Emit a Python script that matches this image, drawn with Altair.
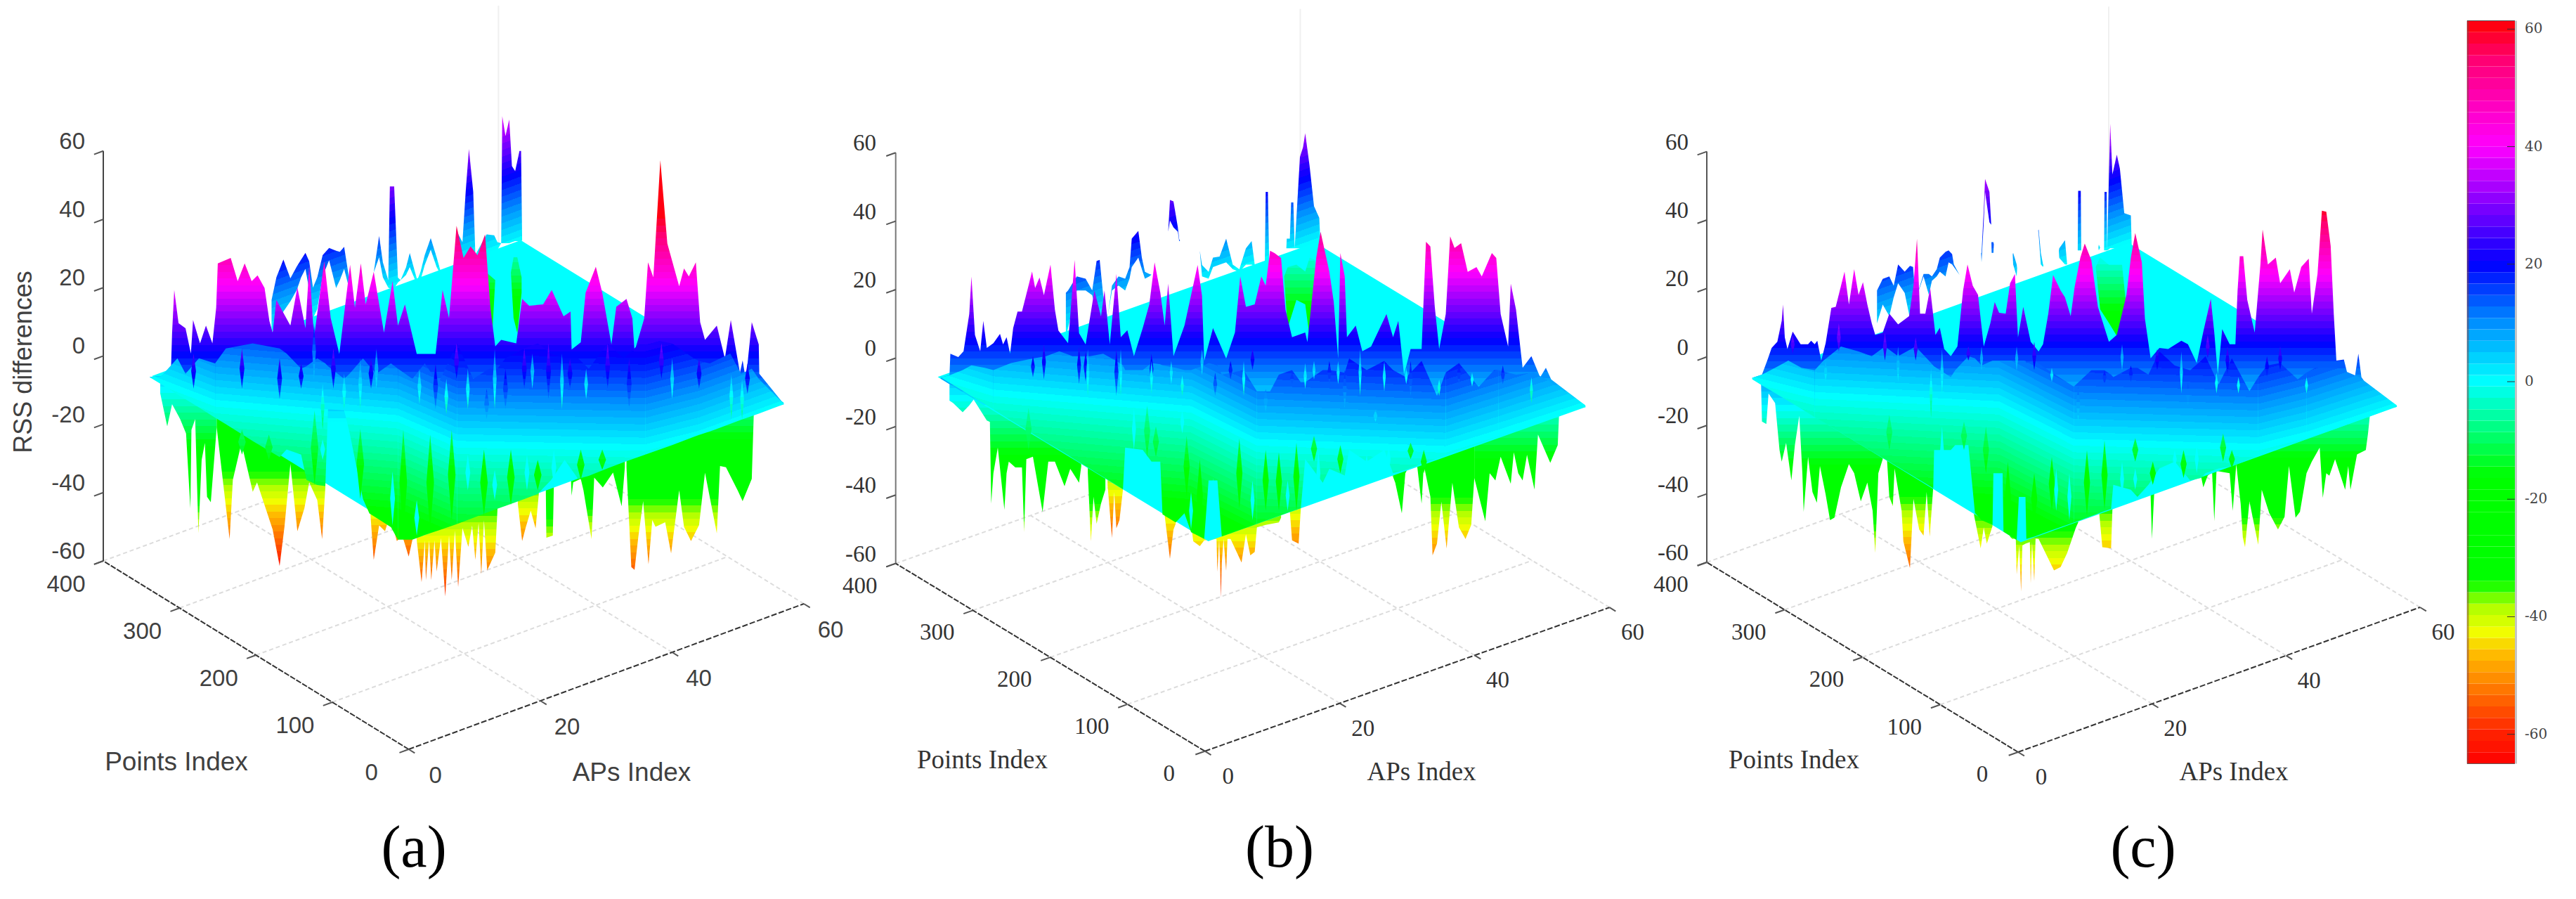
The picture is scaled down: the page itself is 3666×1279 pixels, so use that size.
import numpy as np
import pandas as pd
import altair as alt

# --- colour map (RSS value, colour)
CMAP_RSS = [-65, -60, -53, -46, -42.5, -38, -34, -16, 0, 10, 20, 30, 40, 47, 55, 61.4]
CMAP_RGB = [(255,0,0),(255,32,0),(255,112,0),(255,192,0),(240,255,0),(170,255,0),(0,255,0),(0,255,0),
            (0,255,255),(0,144,255),(0,0,255),(128,0,255),(255,0,255),(255,0,192),(255,0,112),(255,0,0)]
BAND = 1.945

Z_TICKS = [60, 40, 20, 0, -20, -40, -60]
PT_TICKS = [400, 300, 200, 100, 0]
AP_TICKS = [0, 20, 40, 60]
BAR_TICKS = [60, 40, 20, 0, -20, -40, -60]

# --- panel (a): readings are (view position, RSS as read on the z axis)
A_MID = [(27.8,-6.2),(30,-5.9),(31.8,-3.7),(32,6.7),(32.4,19.3),(33.2,9.6),(34.5,8.1),(35.5,.7),(35.9,10.5),(37.2,3.7),(38.3,8.9),(39.5,3.7),(40.2,14.1),(40.5,27.1),(42.9,28.7),(44.2,21.9),(45.5,27.1),(46.8,21.9),(47.9,23.6),(49.2,19.9),(50.1,10.2),(50.7,6.8),(51.4,16.4),(54,8.9),(55.3,20.1),(56.8,8.1),(57.5,26.4),(58.4,5.5),(60.3,27.7),(61.5,11.1),(63.1,.6),(65.1,26.7),(66,14.1),(67.1,27.1),(68,15.1),(69.5,24.6),(71.4,6.8),(73,21.9),(74,8.9),(75.3,15.1),(77.5,.6),(81,.6),(82.3,19.3),(83.5,11.1),(84.9,38.1),(86.2,28.7),(87.5,32.1),(88.8,29.5),(90.2,35.6),(91.2,14),(92.1,2.8),(93.2,4.7),(96,3.7),(97.1,16.7),(98.4,14.7),(101,15.1),(102.6,19.3),(104.8,11.6),(106.1,13),(106.3,1.9),(108,4),(108.9,18.5),(110.8,26.1),(112,18.5),(113.7,3.4),(114.6,14.4),(116.5,16.7),(117.6,11),(118,1.3),(119.8,11),(120.5,27.4),(121.5,23),(122.8,57.3),(124.1,32.9),(126.3,20.4),(127.2,25.6),(128.1,23.3),(129.4,27.4),(130.2,9.9),(131.1,4.7),(133.3,8.9),(134.8,-.7),(135.9,10.5),(137.6,-4.9),(138.1,-1.3),(138.7,-7),(139.8,9.9),(141.1,3.4),(141.2,-5.2),(145.8,-14.1)]
A_BACK = [(50.5,16.4,6.8),(51.4,23,9.6),(52.7,28.2,13),(54,22.7,16),(55.2,26.2,19.3),(56,28.2,23),(56.8,30.2,25.5),(57.5,27.7,19.3),(58.2,20,11),(59,23,13.7),(60,29.5,23.3),(61.2,31.6,28),(62.5,30.8,19.9),(63.2,30.5,22.2),(64,31.9,25.5),(65,21.9,19.3),(65.5,17,17),(69.5,24.4,24.4),(70.5,35.1,28.9),(71.2,27.4,23),(72.2,22.2,20),(72.5,49.6,19.8),(73.3,49.6,19.8),(74,22.9,21.5),(74.5,22.2,22.2),(75.5,25.9,23.7),(76.2,30.1,26),(77.2,24.4,22.2),(77.6,22.2,22.2),(78.2,24.6,22.2),(79,29.6,26.7),(80.1,34.5,31.1),(81.2,28.9,26),(82,24.4,23.7),(82.1,24,24),(84.5,24.4,24.4),(85,36.3,24.4),(86,33.3,28.9),(86.6,48.1,28),(87.2,60.6,28),(88,48.1,28),(88.4,29.6,28),(90.5,35.6,29.6),(91.9,35.3,30.4),(92.5,33.3,31.1),(93.2,33,33),(93.4,70.2,33),(94,64.4,33),(94.7,69.2,33),(95.2,55.6,33.3),(95.8,54.1,33.6),(96.6,60,33.6),(96.9,60,33.7),(97.1,33.7,33.7)]
A_STREAK = [(89.9,21.9,14),(90.5,24.4,8.1),(91.5,23,5.2),(92.1,22.2,22.2),(95,24.4,24.4),(95.5,28.9,11.1),(96.2,28.9,6.7),(97,23,18.5)]
A_CURTAIN = [(27.8,-6.2,-6.2),(30,-5.9,-8.3),(33,-.7,-11.3),(34.5,-5.2,-12.7),(37,-.7,-15.1),(40,-2.2,-18.1),(42,2.2,-20),(47,3.7,-24.9),(52,2.2,-29.6),(53.3,.7,-27.4),(56,-3.7,-28.9),(57,-3,-36.3),(59,-.7,-37.8),(60.5,-2.2,-38.1),(61,-3,-15.6),(64,-6.7,-15.9),(65,-5.2,-22.4),(67.5,-.7,-41.9),(68.7,-3,-46.1),(70,-5.2,-47.4),(72.7,-2.2,-50.1),(74,-3.7,-53.8),(76.7,-6.7,-53.8),(79,-2.2,-52.4),(81.5,-8.1,-51.1),(85,3.7,-49.2),(88,-6.7,-47.4),(91,-3.7,-45.6),(92.5,-3.7,-44.7),(94,-.7,-43.9),(97.5,2.2,-41.9),(100,3.7,-40.4),(102.5,.7,-36.3),(105,-.7,-30.4),(107.5,-.7,-36),(109.5,-3.7,-35.1),(113,3.7,-32.9),(116,-.7,-31.1),(120,5.2,-28.9),(125,3.7,-26.1),(129,-.7,-23.7),(130,-1.5,-23.1),(132,-2.2,-22.1),(135.8,.7,-19.9),(137.8,-5.2,-18.7),(139.8,-3.7,-17.6),(141.1,-6.7,-16.9),(145.8,-14.1,-14.1)]
A_BAND_U = [27.8, 40, 74, 85, 120, 130, 145.8]
A_BAND_V = [-6.6, -14, -18.5, -26, -27, -23, -14]
A_DARK = [(36,.7,-9.6),(45,2.2,-9.6),(52,-.7,-12.6),(56,-2.2,-9.6),(62,2.2,-9.6),(69,-.7,-9.6),(81,-2.2,-15.6),(84.9,3.7,-6.7),(90.5,-9.6,-18.5),(94,-3.7,-15.6),(97.5,2.2,-9.6),(102,3.7,-12.6),(106,-.7,-9.6),(113,3.7,-9.6),(117,-.7,-15.6),(123,3.7,-6.7),(130,-.7,-9.6),(139,-2.2,-11.1)]
A_LIGHT = [(58.4,9.6,-6.8),(60,-8.1,-21.5),(64,-5.2,-15.6),(67,-.7,-15.6),(70,2.2,-9.6),(78,-3.7,-14.1),(83,-6.7,-17),(87,-3.7,-15.6),(92,2.2,-15.6),(99,.7,-9.6),(104.5,.7,-15.6),(109,-3.7,-12.6),(125,-.7,-12.6),(136,-5.2,-18.5),(138,-6.7,-18.5)]
A_GREEN = [(45,-21.5,-28.9),(50,-23,-30.4),(58.5,-15.9,-37.8),(67,-21.3,-41.9),(75,-21.5,-52.6),(80,-23,-51.1),(84,-21.5,-48.1),(90,-27.4,-46.7),(95,-27.4,-43.7),(100,-30.4,-39.3),(108,-27.4,-36.3),(112,-27.4,-33.3)]
A_CYAN = [(60,-24.4,-30.4),(73,-33.8,-49.6),(77.5,-42.2,-52.6),(87,-28.9,-39.3),(92,-33.3,-42.2),(98,-28.9,-39.3),(103,-27.4,-37.8)]
A_LOW_REF = [-10, 0, -4, -11, -3, -14, -11, -8]
A_LOW1 = [(29.8,-11),(31.1,-20.6),(32,-14.1),(33.5,-18.5),(34.6,-22.7),(35.4,-44.6),(35.6,-21.6),(36.3,-18.5),(36.9,-51.9),(37.5,-30.4),(38.1,-25.5),(38.5,-41.2),(39.2,-42.8),(40.3,-20.9)]
A_LOW2 = [(40.3,-20.9),(42.7,-53.6),(43.3,-36.3),(44.9,-25.5),(47,-39.8),(47.8,-37),(50.7,-50.8),(52,-61.5),(52.9,-50),(54,-31.6),(55.3,-51.3),(56.6,-44.6),(57.5,-37),(59,-42.2),(59.9,-53.6),(60.5,-38.5)]
A_LOW3 = [(68.9,-46.7),(69.5,-59.7),(70.5,-49.6),(71.6,-51.3),(72.5,-46.7),(73.8,-54.2),(74.8,-52.6),(76,-58.7),(76.7,-53.8)]
A_LOW4 = [(77.5,-54),(78.4,-66.2),(79,-54),(79.2,-65.6),(79.8,-54),(80.2,-65.6),(80.8,-54),(81.2,-63.1),(82,-53.3),(82.8,-70.4),(83.5,-52.6),(84,-65.6),(84.6,-51.1),(85.2,-67.6),(86,-50.4),(87.1,-55.9),(87.8,-49.6),(88.4,-59.7),(89,-48.9),(89.5,-63.9),(90,-48.1),(90.6,-62.8),(92.1,-57.6),(92.5,-45.3)]
A_LOW5 = [(96.3,-43.3),(97.1,-54.2),(97.8,-50),(98.7,-45.3),(99.6,-50.5),(100.2,-40.4)]
A_LOW6 = [(101.5,-39.3),(101.6,-53.2),(102.8,-52.6),(103,-37.8)]
A_LOW7 = [(106.2,-37),(106.3,-40.9),(106.6,-37),(108,-36),(108.5,-39.3),(110,-53.6),(110.5,-35.6),(112.1,-38.5),(114,-34.1),(115.6,-44),(116.2,-32.6)]
A_LOW8 = [(116.5,-32.6),(117.4,-61.8),(118,-62.6),(118.7,-53),(119.6,-42.5),(120.6,-61),(121.3,-48),(121.9,-50),(123.7,-48.7),(124.8,-57.8),(126.3,-39.3),(127.2,-50),(128.5,-54.2),(130,-49.5),(131.1,-34.2),(133.3,-51.9),(133.9,-32.2),(135,-32.6),(137.2,-39.4),(138.1,-42.5),(139.8,-36),(140.2,-15.7)]

# --- panel (b)
B_MID = [(3,-5.9),(5,-5.1),(5.2,1.1),(7,.1),(8.2,1.8),(9.5,12.7),(10,23.7),(10.8,6.6),(12,1.8),(12.7,10.7),(13.5,2.8),(15,4.2),(16.5,6.9),(17.2,3.8),(18,5.9),(18.8,1.1),(19.5,8.6),(20.5,13.4),(21.5,13.4),(23,21),(23.8,25.1),(24.5,20.3),(25.5,23.4),(26.5,18.2),(28,27.1),(29,14),(29.8,7.9),(32,4.2),(33.5,28.5),(34.5,7.1),(36,3.8),(38,19.6),(39.5,12),(40.3,19.6),(41.5,3.8),(43,24.4),(44,5.9),(45.5,8),(47,.4),(49,8.6),(50.5,15.5),(51.7,27.8),(53,19),(54,9.3),(54.8,21.6),(56,.4),(58.5,9.3),(61.5,27),(62.5,18),(63,-1),(65,8.6),(68,-.3),(70,7.3),(71.2,23.7),(72.5,14.8),(74.5,15.5),(76,23.7),(77,21),(78,31.2),(79,30.5),(80.5,29.1),(81.5,14),(83,5.9),(86,7.3),(86.5,4.5),(88.5,29.1),(89.5,36.7),(91.5,25),(92.5,16.2),(93.5,-.3),(94,30.5),(95,23.7),(95.5,5.9),(97.5,9.3),(99,1.8),(101,3.2),(104.5,12.7),(106,5.9),(107.2,10.7),(108.5,-5),(110,2.5),(112.5,2.5),(113.5,33.8),(114.5,32.4),(115.5,14.8),(116.5,2.5),(118,12.7),(119,35.4),(120,32),(121.5,33.4),(123,25),(125,26.4),(126.2,23.7),(128.5,30.5),(129.5,29.1),(130.5,12.7),(132.2,3.2),(132.8,21.6),(134,14),(135.5,-3),(137.5,.4),(139.5,-5.8),(140.8,-3),(142,-6.4),(149.8,-14)]
B_BACK = [(31.5,18.9,5.9),(32,19.6,8.6),(34,23.7,19.6),(36,23,19.6),(37.5,19.6,18.2),(38.5,28.2,12.7),(39.2,28.5,11.4),(40,18.2,12.1),(41,11.7,11.7),(42,21,19.6),(43.5,23.7,21),(45,23,19.6),(46,26.4,23),(46.5,34.7,26.4),(48,37,29.2),(48.8,29.2,25.8),(49.5,25,23),(50.5,24.4,23.7),(51,24.2,24.2),(54.8,36.7,36.7),(55.2,46,40),(56,45.6,38),(57,38,36.7),(57.3,34.6,34),(57.5,34,34),(62,31.2,31.2),(62.5,27,23.7),(64,25,23),(65,29.2,26.4),(66.5,29.5,27.1),(68,34.7,27.8),(69.5,27.1,25.8),(71,25.8,25),(72.5,31.9,27.1),(73.8,34,27.1),(74.5,27.1,26.8),(74.6,27,27),(76.8,27.1,27.1),(77,48.4,27.8),(77.5,48.4,27.8),(77.8,27.5,27.5),(81.7,31.9,31.9),(81.8,34.7,31.9),(82.5,34.7,31.9),(82.8,45.3,31.9),(83.3,45.3,31.9),(83.6,31.9,31.9),(84.8,58.6,31.9),(85.5,61.4,31.9),(86,65.5,31.9),(87,55.9,31.9),(88,44.2,31.9),(89.2,40.8,31.9),(89.5,32.6,32.3)]
B_STREAK = [(81.2,23.7,23.7),(82,26.4,8.6),(84,27.1,16.8),(86,25.1,15.5),(87,29.2,5.9),(88.2,28.5,4.5),(88.6,19.6,19.6)]
B_CURTAIN = [(3,-5.9,-5.8),(5.2,-5.1,-7.5),(8,-3.7,-9.7),(10,-2.3,-11.3),(13,-3,-13.6),(15,-3.7,-15.2),(19,-1.6,-18.4),(24,-.3,-22.3),(27,.4,-24.7),(30,1.8,-27),(33,.4,-29.4),(37,.4,-32.5),(40,1.1,-34.9),(43,-1,-37.3),(44.5,-2.3,-38.5),(45,-3.7,-26.3),(49,-3.7,-27),(51,-1.6,-30.4),(53,-2,-30.4),(53.5,-2.3,-45.8),(56.5,-3,-48.2),(58.5,-3.7,-45.5),(60,-3.7,-51),(63,-2.3,-53),(64,-1.6,-35.9),(66,-2.3,-35.9),(67,-5,-52.3),(72,-3.7,-50),(75,-9.9,-48.6),(78,-9.9,-47.2),(80,-5,-46.3),(83,-3.7,-44.9),(85,-7.2,-44),(86,-7.2,-29.7),(90,-3.7,-36.6),(91.5,-3.7,-32.5),(95,-4.4,-34.5),(96,-.3,-27),(100,-3.7,-30.4),(104,-1,-27),(106,-3.7,-33.8),(109,-5.8,-32.8),(112.5,-1,-31.1),(116,-11.2,-29.6),(118,-4.4,-28.7),(121,-1.6,-27.3),(125.5,-8.6,-25.3),(129,-3.7,-23.6),(130,-3.7,-23.2),(134,-5,-21.3),(138,-4.4,-19.5),(142,-7.2,-17.6),(149.8,-14,-14)]
B_BAND_U = [3, 15, 60, 75, 118, 130, 149.8]
B_BAND_V = [-5.8, -10.5, -15.3, -24.9, -27, -22.2, -14]
B_DARK = [(24,.4,-5.8),(26.5,3.8,-6.4),(34.5,3.2,-7.8),(36,1.8,-7.1),(43,2.5,-11.2),(51,1.1,-7.8),(65.5,-4.4,-11.2),(69,-1,-6.4),(74,2.5,-3.7),(77,-9.2,-16),(83,-4.4,-7.8),(91.5,-1,-7.8),(95,-3.7,-14.7),(102,-15.3,-18.8),(110,-1,-11.2),(121,-1.6,-7.8),(131,-2.3,-7.8)]
B_LIGHT = [(36.5,2.5,-11.2),(44,2.5,-11.2),(51,-1,-10.5),(55.5,-1,-7.8),(58,-5.1,-11.2),(62.5,2.5,-5.1),(72,-1,-11.2),(86,-1.6,-9.2),(88,-1,-6.4),(93.5,-1,-7.8),(98.5,2.5,-11.2),(104,-1,-9.9),(109,-3,-7.8),(116.5,-6.4,-11.2),(124,-4.4,-8.5),(137.5,-5.8,-13.3)]
B_GREEN = [(23,-14.7,-27),(50,-14,-29),(52,-20.1,-29),(59,-22.9,-40.7),(62,-29.7,-51),(71,-23.6,-44.1),(77,-27,-44.8),(80,-27.7,-44.8),(84,-24.9,-44.8),(88,-22.9,-30.4),(94,-25.6,-33.8),(110,-24.9,-29.7),(113,-27,-33.8)]
B_CYAN = [(47,-14.7,-27),(58,-15.3,-22.2),(60,-39.3,-50.3),(65,-35.2,-53),(74,-35.9,-47.5),(82,-35.9,-44.8),(89,-27,-40.7),(100,-28.4,-35.2),(105,-25.6,-33.8)]
B_LOW_REF = [-12, -9, 3, -5, -10, -4, -16, -7, -13]
B_LOW1 = [(5,-12.6),(5.8,-13.3),(8,-16),(9.5,-14),(10.5,-12.3),(13.5,-18.4),(14.2,-18.8),(14.5,-42.7),(15,-33.8),(16,-26.3),(17.5,-44.5),(18,-33.8),(18.5,-30.4),(20,-32.1),(21.5,-32.1),(22,-51),(22.5,-29.7),(24,-29),(26.2,-45.1),(27.5,-30.4),(29,-30.4),(31.2,-37.6),(32.5,-32.5),(34.5,-36.6),(35,-31.8)]
B_LOW2 = [(36.5,-33.8),(37.2,-53.7),(37.8,-40.7),(38.5,-48.6),(39.5,-42.7),(40.5,-38.6)]
B_LOW3 = [(41,-37.3),(42,-52.7),(42.5,-39.3),(43,-49.9),(43.7,-47.5),(44.5,-38.6)]
B_LOW4 = [(54,-46.2),(55.2,-58.8),(56,-50.3),(56.5,-48.6)]
B_LOW5 = [(60.3,-51.6),(60.5,-53.7),(62,-55.1),(63,-53.4),(65.8,-53),(66,-62.6),(66.4,-53),(66.6,-60),(66.8,-70.1),(67,-60),(67.4,-53),(68,-62.3),(68.3,-53),(69,-53),(71.5,-59.9),(72.5,-51.6),(73.5,-57.8),(74.5,-56.8),(75,-49.6),(77,-48.9),(80,-48.2),(80.5,-46.8)]
B_LOW6 = [(82.5,-44.8),(83,-53.4),(84.5,-54.4),(85,-44.1)]
B_LOW7 = [(106,-34.9),(106.5,-36.6),(108,-45.5),(108.8,-33.8),(109.5,-32.1),(111.5,-31.8),(112.5,-42.7),(113,-31.4)]
B_LOW8 = [(113,-31.4),(114.5,-40.7),(115,-57.8),(116,-54.4),(117,-42.1),(118.2,-55.8),(119.5,-36.6),(121,-49.6),(122.5,-53),(123.8,-48.9),(124.5,-35.2)]
B_LOW9 = [(124.5,-35.2),(127,-47.9),(128,-33.8),(129.3,-35.9),(130.5,-29),(132.8,-36.9),(133.5,-27.7),(134.5,-33.8),(135.5,-35.9),(136.5,-28.4),(138.2,-38.6),(139,-22.5),(141.8,-30.8),(143.5,-25.6),(143.8,-16.7)]

# --- panel (c)
C_MID = [(3.8,-6),(6,-5.1),(7.2,-1),(8.2,2.7),(9.5,4.5),(10.5,10.6),(10.8,15.4),(11.2,5.8),(11.8,2.4),(13,7.5),(14.8,3.8),(16.5,3.8),(17.2,4.8),(18,3.8),(18.6,4.8),(19.5,-1),(20.5,4.1),(21.8,14.4),(22.8,14.7),(24,20.9),(24.8,25),(25.8,15.4),(27,25.7),(28,18.2),(29,21.9),(30,15.4),(31,9.9),(31.8,6.5),(33.5,7.2),(35,12.7),(37,9.6),(39.5,12),(40.5,20.9),(41.3,34.6),(42,12.7),(43.2,12.7),(44.3,20.2),(45.5,6.5),(46.5,8.6),(47.5,2.4),(49,.3),(50.5,3.1),(51.8,19.5),(52.8,27.1),(54,20.9),(55.2,18.2),(56.5,3.1),(58,9.9),(59,16.1),(60,13),(61.5,12.7),(62.5,21.6),(63.6,24.3),(64.3,5.8),(65.5,14.7),(67.2,4.5),(69,1.7),(70,3.8),(71.2,12.7),(72.3,24),(74,19.5),(75,17.5),(76.3,12),(77.2,20.5),(78.5,29.1),(79.5,33.2),(81,28.4),(82.5,14.7),(85,4.5),(86.8,6.5),(89,18.2),(90,29.1),(91,36.3),(92.5,27.7),(93.2,11.3),(94.5,-.3),(96.5,2.7),(98.5,2.4),(101.5,4.8),(103,3.8),(105,-1.7),(106.5,7.5),(108.2,17.1),(109,7.2),(109.8,-5.1),(110.8,8.2),(112.5,3.8),(113.8,3.8),(114.3,19.5),(114.8,29.5),(115.6,29.5),(116.5,16.8),(118.2,7.2),(119.5,27.1),(120,37.3),(121.2,27.1),(123,29.1),(124,21.6),(126.2,25.7),(127.2,18.9),(128.8,26.4),(130.5,28.8),(131.2,12.7),(132.5,24.3),(133.5,42.8),(134.5,42.5),(135.5,32.5),(136.2,12.7),(136.8,-1),(138.5,-.7),(139.5,-5.8),(141,-5.8),(141.8,1),(142.5,-5.8),(144,-8.6),(150.5,-14)]
C_BACK = [(32.2,19.5,9.9),(33.5,22.9,15.4),(35,23.6,12),(36,20.9,17.5),(37,27.1,21.6),(38.5,25,18.8),(39.7,26.7,11.3),(40.4,26.4,11.3),(41,16.8,16.8),(42.8,24.3,23.6),(44,24.3,18.2),(44.7,23.6,22.3),(45.8,25.7,23.6),(46.5,29.1,25),(47.8,30.8,23.6),(48.5,31.2,27.7),(49.3,30.1,27.1),(49.7,27.1,26.4),(51,24,24),(55.9,30.5,30.5),(56,30.5,27.7),(56.5,42.8,39.4),(56.8,52.1,48.3),(57.8,48.3,39.4),(58.2,38.7,38.7),(58.25,33.6,33.6),(58.3,33.6,30.5),(58.7,33.6,30.5),(58.8,33,33),(63.1,30,30),(63.2,30.5,27.1),(64,27.1,23.6),(64.1,26,26),(68.9,37,37),(69,37.3,36),(69.5,30.5,27.1),(70,27.1,26.4),(70.1,27,27),(73.6,31,31),(73.7,31.8,29),(75,34.2,27.1),(75.5,27.1,27.1),(77.9,31.2,31.2),(78,48.6,31.2),(78.6,48.6,31.2),(78.7,31.2,31.2),(82.6,32,32),(82.7,32.9,31.2),(83,32,32),(83.9,31.2,31.2),(84,48.3,31.2),(84.5,48.3,31.2),(84.6,31.2,31.2),(85.3,68.2,31.8),(85.8,53.4,31.8),(86.8,59.2,31.8),(87.5,55.1,31.8),(88.5,42.1,31.8),(90,41.4,31.8),(90.2,32.5,32.2)]
C_STREAK = [(82,26.4,26.4),(83,29.1,14),(85,27,10),(87,27,5.8),(88,27,3.8),(88.8,16.8,16.8)]
C_CURTAIN = [(3.8,-6,-6.5),(6,-5.1,-8.2),(9,-3.1,-10.5),(12,-1,-12.8),(15,-3.1,-15.1),(18,-3.8,-17.5),(20,-1,-19),(24,3.1,-22.1),(28,1.7,-25.2),(31,.3,-27.5),(34,3.1,-29.8),(37,.3,-32.1),(41,3.1,-35.2),(44,-1,-37.5),(45,-2.4,-38.3),(45.2,-2.7,-27.1),(49,-5.8,-27.1),(50,-3.8,-25.7),(53,.3,-25.7),(54.5,-.3,-45.5),(56,-2.4,-47.6),(58.5,-1,-49),(58.7,-1,-33.9),(60,-1,-33.9),(60.8,-1,-33.9),(61,-1,-51),(64,-1,-53.4),(64.5,-1,-40.8),(66,-1,-40.8),(66.2,-1.7,-53.1),(68,-1,-52.4),(72,-4.5,-50.5),(77,-8.6,-48.3),(81,-3.8,-46.4),(84,-3.8,-45),(85.5,-5.1,-44.3),(86,-5.8,-37.3),(90,-3.1,-38.7),(91.5,-3.1,-40.8),(94,-5.1,-37.3),(96.5,1.7,-32.5),(100,-2.4,-30.5),(103.5,-3.8,-36),(106,-1,-35.3),(107,.3,-33.9),(110,-7.9,-32.5),(113,-.3,-31.9),(117,-9.9,-29.8),(119,-5.8,-28.9),(121,-2.4,-27.9),(124,-1.7,-26.4),(128,-6.5,-24.8),(130,-4.5,-23.8),(132,-3.1,-22.9),(137,-3.1,-20.7),(142,-5.8,-18.4),(150.5,-14,-14.4)]
C_BAND_U = [3.8, 18, 60, 77, 119, 130, 150.5]
C_BAND_V = [-6.8, -11.3, -14, -25, -26.4, -22.9, -14.4]
C_DARK = [(13,6.5,1),(23.5,9.9,1.7),(34,7.2,-1),(41,5.8,-1),(53,3.1,-1),(68,4.5,-3.8),(78,-8.6,-18.8),(84,-3.8,-7.9),(90,-2.4,-7.2),(96,2.4,-3.8),(103,-7.2,-14),(107.5,6.5,-.3),(112,3.1,-5.1),(121,.3,-5.8),(124,3.1,-3.8)]
C_LIGHT = [(20.5,-1,-7.2),(37,3.1,-7.2),(44.5,-3.1,-17.5),(47,2.4,-10.6),(56,3.1,-3.8),(64,3.1,-3.8),(72,-3.1,-7.2),(88,3.8,-3.8),(101.5,1.7,-10.6),(109.5,-4.5,-10.6),(114.5,-5.8,-10.6),(130,-5.8,-10.6)]
C_GREEN = [(35,-16.8,-27.1),(52,-18.8,-27.1),(57,-20.2,-33.9),(62,-30.5,-51),(68,-33.9,-49),(72,-29.1,-44.9),(80,-27.1,-46.2),(84,-24.3,-44.5),(91,-23.6,-30.5),(95,-30.5,-37.3),(102,-27.1,-35.3),(111,-22.3,-30.5),(113,-27.1,-32.5)]
C_CYAN = [(47,-20.2,-35.3),(60,-33.9,-49),(65,-40.8,-53),(73,-32.5,-44.9),(76,-33.9,-47.6),(88,-30.5,-40.8),(91,-32.5,-38.7),(100,-27.1,-32.5),(105,-25.7,-33.9)]
C_LOW_REF = [-15, -7, -12, -17, -10, -22, -13]
C_LOW1 = [(5.8,-7.9),(6,-18.8),(7,-19.5),(7.5,-10.6),(9,-13.4),(10,-27.1),(10.5,-30.5),(11.5,-25),(12.7,-36),(13.5,-25.7),(14.5,-17.1),(15.2,-33.9),(15.5,-45.2),(16.5,-29.1),(17.5,-39.4),(18.5,-42.5),(19.2,-31.8),(20.5,-40.1),(21.5,-47.6),(22.5,-46.9),(24,-38),(25.8,-31.2),(27,-33.9),(28.5,-42.1),(30,-36.6),(31.2,-44.9),(31.8,-57.2),(32.5,-33.9),(33.5,-29.8)]
C_LOW2 = [(34.5,-30.5),(35,-40.8),(35.8,-43.5),(36.2,-32.5),(37.8,-44.9),(38.2,-53.8),(39.7,-61.6),(40.5,-41.4),(41.8,-50.3),(42.8,-52.1),(43.5,-39.4),(44.2,-52.4),(45,-38)]
C_LOW3 = [(54.3,-46.2),(55.8,-55.8),(56.5,-49.7),(57.2,-54.5),(58.5,-49.3)]
C_LOW4 = [(62.5,-52.4),(63,-53.1),(63.8,-53),(64,-63.4),(64.6,-55),(65,-68.5),(65.3,-55),(66,-54.5),(67,-54),(67.2,-66.1),(67.5,-54),(68,-65.4),(68.3,-53),(69,-53.1),(72.5,-62.3),(74,-61.3),(75.5,-57.2),(77.5,-49.7),(78,-48.3)]
C_LOW5 = [(82.8,-45.5),(83.5,-55.5),(85.5,-55.8),(85.8,-44.5)]
C_LOW6 = [(94.5,-40.4),(94.8,-53.1),(95.3,-40.1)]
C_LOW7 = [(106,-34.9),(106.5,-38),(107.5,-34.6),(108.5,-33.6),(109,-47.9),(109.5,-33.2),(112.5,-33.9),(113.2,-44.9),(114,-31.2),(115,-42.8),(115.5,-52.7),(116,-55.5),(117,-42.1),(119,-54.8),(119.8,-38.7),(121.5,-45.5),(123.5,-50.3),(125,-46.6),(126,-31.8),(127.5,-46.9),(128.5,-45.2),(130,-33.9),(131.2,-30.5),(133,-26.4),(133.7,-41.1),(134.5,-33.9),(135.2,-34.6),(136.5,-29.8),(138.8,-38.7),(139.5,-31.8),(140,-38.7),(141,-31.8),(141.5,-28.4),(143.5,-27.1),(144,-22.3),(144.5,-16.1)]


def colour(z):
    z = max(-65.0, min(61.4, z))
    rgb = [np.interp(z, CMAP_RSS, [c[i] for c in CMAP_RGB]) for i in range(3)]
    return "#%02x%02x%02x" % tuple(int(round(v)) for v in rgb)


BAND_EDGES = [-65 + i * BAND for i in range(65)]


def gradient(xs, ys, m, c, k, squash=1.0, squash_up=1.0):
    """Colour a polygon by RSS: rss = (m*x + c - y) / k, quantised like the colour bar."""
    xs = np.asarray(xs, float)
    ys = np.asarray(ys, float)
    xmin, xmax, ymin, ymax = xs.min(), xs.max(), ys.min(), ys.max()
    W, H = max(xmax - xmin, 0.01), max(ymax - ymin, 0.01)
    z00 = (m * xmin + c - ymin) / k
    gx, gy = m * W / k, -H / k
    g2 = gx * gx + gy * gy
    corners = [z00, z00 + gx, z00 + gy, z00 + gx + gy]
    za, zb = min(corners), max(corners)
    p1 = ((za - z00) / g2 * gx, (za - z00) / g2 * gy)
    p2 = ((zb - z00) / g2 * gx, (zb - z00) / g2 * gy)
    stops = []
    for lo in BAND_EDGES:
        hi = lo + BAND
        l2 = -1e6 if lo == BAND_EDGES[0] else lo
        h2 = 1e6 if lo == BAND_EDGES[-1] else hi
        if h2 < za or l2 > zb:
            continue
        mid = (lo + hi) / 2
        col = colour(mid * squash if mid < 0 else mid * squash_up)
        o1 = max(0.0, (l2 - za) / (zb - za))
        o2 = min(1.0, (h2 - za) / (zb - za))
        stops.append(alt.GradientStop(color=col, offset=round(o1, 5)))
        stops.append(alt.GradientStop(color=col, offset=round(o2, 5)))
    return alt.Gradient(gradient="linear", stops=stops, x1=round(p1[0], 5), y1=round(p1[1], 5),
                        x2=round(p2[0], 5), y2=round(p2[1], 5))


SX = alt.Scale(domain=[8, 3658], nice=False, zero=False)
SY = alt.Scale(domain=[1271, 8], nice=False, zero=False)


def enc_x():
    return alt.X("x:Q", scale=SX, axis=None)


def enc_y():
    return alt.Y("y:Q", scale=SY, axis=None)


def area(xs, y1, y2, fill):
    df = pd.DataFrame({"x": xs, "y": y1, "y2": y2})
    return alt.Chart(df).mark_area(color=fill, orient="vertical", interpolate="linear").encode(enc_x(), enc_y(), y2="y2:Q")


def rules(rows, color, width, dash=None):
    kw = {"color": color, "strokeWidth": width}
    if dash:
        kw["strokeDash"] = dash
    df = pd.DataFrame(rows, columns=["x", "y", "x2", "y2"])
    return alt.Chart(df).mark_rule(**kw).encode(enc_x(), enc_y(), x2="x2:Q", y2="y2:Q")


def texts(rows, font, size, color, align="center", angle=None, baseline="middle"):
    kw = dict(font=font, fontSize=size, color=color, align=align, baseline=baseline)
    if angle is not None:
        kw["angle"] = angle
    df = pd.DataFrame(rows, columns=["x", "y", "t"])
    return alt.Chart(df).mark_text(**kw).encode(enc_x(), enc_y(), text="t:N")


def spindles(rows, w):
    out = []
    for u, t, b in sorted(rows):
        m = (t + b) / 2
        out += [(u - w, m, m), (u, t, b), (u + w, m, m)]
    return out


def panel(p):
    k, y0 = p["k"], p["y0"]
    ox, oy = p["front"]
    ax, ay = p["right"][0] - ox, p["right"][1] - oy
    tx, ty = p["left"][0] - ox, p["left"][1] - oy

    def proj(ap, pt, z):
        return (ox + ap / 60 * ax + pt / 400 * tx, oy + ap / 60 * ay + pt / 400 * ty - (z + 60) * k)

    def ux(u):
        return p["crop"] + u * 10 / p["scale"]

    def vy(v):
        return y0 - v * k

    a0, a1, pm, zp = p["plane"]
    L, F, R, Bk = proj(a0, pm, zp), proj(a0, 0, zp), proj(a1, 0, zp), proj(a1, pm, zp)

    def edge(x, A, B):
        return A[1] + (B[1] - A[1]) * (x - A[0]) / (B[0] - A[0])

    def front(x):
        return edge(x, L, F) if x <= F[0] else edge(x, F, R)

    def backy(x):
        return edge(x, L, Bk) if x <= Bk[0] else edge(x, Bk, R)

    out = []
    grid = []
    for ap in [20, 40, 60]:
        grid.append((*proj(ap, 0, -60), *proj(ap, 400, -60)))
    for pt in [100, 200, 300, 400]:
        grid.append((*proj(0, pt, -60), *proj(60, pt, -60)))
    out.append(rules(grid, "#dcdcdc", 2, [6, 4]))
    out.append(rules([(*proj(60, 400, -60), *proj(60, 400, 60))], "#f0f0f0", 2))
    out.append(rules([(*proj(0, 400, -60), *proj(0, 400, 60))], p["zcol"], 2))
    out.append(rules([(*proj(0, 0, -60), *proj(0, 400, -60))], "#333333", 2, [8, 2]))
    out.append(rules([(*proj(0, 0, -60), *proj(60, 0, -60))], "#333333", 2, [8, 3]))
    ticks = [(*proj(0, 400, z), *proj(-1.4, 400, z)) for z in Z_TICKS]
    ticks += [(*proj(0, pt, -60), *proj(-1.4, pt, -60)) for pt in PT_TICKS]
    ticks += [(*proj(ap, 0, -60), *proj(ap, -8, -60)) for ap in AP_TICKS]
    out.append(rules(ticks, "#555555", 2))

    # spikes below the sheet, behind it
    for seg, ref in zip(p["low"], p["low_ref"]):
        xs = [ux(u) for u, _ in seg]
        ys = [vy(v) for _, v in seg]
        mids = [(backy(x) + front(x)) / 2 for x in xs]
        out.append(area(xs, ys, mids, gradient(xs, ys + mids, 0, vy(ref), k)))

    # ribbons and spikes rising behind the far edge
    xs = [ux(r[0]) for r in p["back"]]
    y1 = [vy(r[1]) for r in p["back"]]
    y2 = [vy(r[2]) for r in p["back"]]
    m = (Bk[1] - L[1]) / (Bk[0] - L[0])
    out.append(area(xs, y1, y2, gradient(xs, y1 + y2, m, L[1] - m * L[0], k)))

    # sheet at RSS = 0
    xp = sorted([L[0], F[0], Bk[0], R[0]])
    out.append(area(xp, [backy(x) for x in xp], [front(x) for x in xp], "#00ffff"))

    # downward streak seen on the sheet
    xs = [ux(r[0]) for r in p["streak"]]
    y1 = [vy(r[1]) for r in p["streak"]]
    y2 = [vy(r[2]) for r in p["streak"]]
    out.append(area(xs, y1, y2, gradient(xs, y1 + y2, 0, vy(p["streak_ref"]), k)))

    # silhouette of the upper spikes
    xs = [ux(r[0]) for r in p["mid"]]
    y1 = [vy(r[1]) for r in p["mid"]]
    yr = vy(p["mid_ref"])
    y2 = [max(min(yr, front(x)), y) for x, y in zip(xs, y1)]
    out.append(area(xs, y1, y2, gradient(xs, y1 + y2, 0, yr, k)))

    # nearer curtain, cut where the cyan band changes direction
    bu, bv = p["band_u"], p["band_v"]
    for i in range(len(bu) - 1):
        rows = [r for r in p["curtain"] if bu[i] <= r[0] <= bu[i + 1]]
        xs = [ux(r[0]) for r in rows]
        y1 = [vy(r[1]) for r in rows]
        y2 = [vy(r[2]) for r in rows]
        xa, xb = ux(bu[i]), ux(bu[i + 1])
        ya, yb = vy(bv[i]), vy(bv[i + 1])
        m = (yb - ya) / (xb - xa)
        out.append(area(xs, y1, y2, gradient(xs, y1 + y2, m, ya - m * xa, k, squash=0.6, squash_up=0.75)))

    # narrow streaks inside the surface
    for rows, w, ref, squash in [(p["dark"], 0.45, p["mid_ref"] - 6, 1.0), (p["light"], 0.35, p["mid_ref"] + 8, 1.0), (p["green"], 0.7, -6, 0.6)]:
        sp = spindles(rows, w)
        xs = [ux(r[0]) for r in sp]
        y1 = [vy(r[1]) for r in sp]
        y2 = [vy(r[2]) for r in sp]
        out.append(area(xs, y1, y2, gradient(xs, y1 + y2, 0, vy(ref), k, squash=squash)))
    sp = spindles(p["cyan"], 0.45)
    out.append(area([ux(r[0]) for r in sp], [vy(r[1]) for r in sp], [vy(r[2]) for r in sp], "#00ffff"))

    # labels
    font, col = p["font"], p["tcol"]
    zl = [(p["zlab_x"], proj(0, 400, z)[1] - 13, str(z)) for z in Z_TICKS]
    out.append(texts(zl, font, p["tick_size"], col, "right"))
    dx, dy = p["pt_off"]
    out.append(texts([(proj(0, t, -60)[0] + dx, proj(0, t, -60)[1] + dy, str(t)) for t in PT_TICKS], font, p["tick_size"], col))
    dx, dy = p["ap_off"]
    out.append(texts([(proj(t, 0, -60)[0] + dx, proj(t, 0, -60)[1] + dy, str(t)) for t in AP_TICKS], font, p["tick_size"], col))
    out.append(texts([(*p["pt_title"], "Points Index"), (*p["ap_title"], "APs Index")], font, 37, col))
    out.append(texts([(*p["cap_pos"], p["cap"])], "Liberation Serif", 84, "#000000"))
    return out


PANELS = [
    dict(crop=0, scale=1.3067, k=4.86, y0=506.4, front=(581.6, 1066), right=(1144, 859), left=(147, 798),
         plane=(1, 57, 345, 1), low=[A_LOW1, A_LOW2, A_LOW3, A_LOW4, A_LOW5, A_LOW6, A_LOW7, A_LOW8], low_ref=A_LOW_REF,
         back=A_BACK, streak=A_STREAK, streak_ref=34, mid=A_MID, mid_ref=-19.3, curtain=A_CURTAIN, band_u=A_BAND_U, band_v=A_BAND_V,
         dark=A_DARK, light=A_LIGHT, green=A_GREEN, cyan=A_CYAN,
         font="Liberation Sans", tcol="#404040", zcol="#444444", tick_size=33, zlab_x=121, pt_off=(-53, 34), ap_off=(38, 38),
         pt_title=(251, 1085), ap_title=(899, 1100), cap="(a)", cap_pos=(589, 1208)),
    dict(crop=1320, scale=1.6, k=4.87, y0=508.6, front=(1714.7, 1068.7), right=(2290.5, 864.2), left=(1274.7, 801.6),
         plane=(0.5, 56.5, 350, 1), low=[B_LOW1, B_LOW2, B_LOW3, B_LOW4, B_LOW5, B_LOW6, B_LOW7, B_LOW8, B_LOW9], low_ref=B_LOW_REF,
         back=B_BACK, streak=B_STREAK, streak_ref=31, mid=B_MID, mid_ref=-15, curtain=B_CURTAIN, band_u=B_BAND_U, band_v=B_BAND_V,
         dark=B_DARK, light=B_LIGHT, green=B_GREEN, cyan=B_CYAN,
         font="Liberation Serif", tcol="#333333", zcol="#777777", tick_size=33, zlab_x=1247, pt_off=(-51, 32), ap_off=(33, 36),
         pt_title=(1398, 1082), ap_title=(2023, 1099), cap="(b)", cap_pos=(1821, 1208)),
    dict(crop=2470, scale=1.6, k=4.87, y0=508.2, front=(2872, 1070), right=(3444, 864), left=(2429, 800),
         plane=(0.4, 56.6, 345, 1), low=[C_LOW1, C_LOW2, C_LOW3, C_LOW4, C_LOW5, C_LOW6, C_LOW7], low_ref=C_LOW_REF,
         back=C_BACK, streak=C_STREAK, streak_ref=30, mid=C_MID, mid_ref=-16, curtain=C_CURTAIN, band_u=C_BAND_U, band_v=C_BAND_V,
         dark=C_DARK, light=C_LIGHT, green=C_GREEN, cyan=C_CYAN,
         font="Liberation Serif", tcol="#333333", zcol="#555555", tick_size=33, zlab_x=2403, pt_off=(-51, 32), ap_off=(33, 36),
         pt_title=(2553, 1082), ap_title=(3179, 1099), cap="(c)", cap_pos=(3050, 1208)),
]

layers = []
for p in PANELS:
    layers.extend(panel(p))

# colour bar
BAR_Y0, BAR_K = 543, 8.36
bar = pd.DataFrame({
    "x": 3511, "x2": 3579,
    "y": [BAR_Y0 - (lo + BAND) * BAR_K for lo in BAND_EDGES],
    "y2": [BAR_Y0 - lo * BAR_K for lo in BAND_EDGES],
    "c": [colour(lo + BAND / 2) for lo in BAND_EDGES],
})
bar_top = BAR_Y0 - (BAND_EDGES[-1] + BAND) * BAR_K
bar_bot = BAR_Y0 - BAND_EDGES[0] * BAR_K
layers.append(alt.Chart(bar).mark_rect().encode(enc_x(), enc_y(), x2="x2:Q", y2="y2:Q", color=alt.Color("c:N", scale=None, legend=None)))
layers.append(rules([(3512, bar_top, 3512, bar_bot)], "#80404080", 3))
layers.append(rules([(3580.5, bar_top, 3580.5, bar_bot)], "#c4c4c4", 3))
layers.append(rules([(3511, bar_top, 3579, bar_top), (3511, bar_bot, 3579, bar_bot)], "#555555", 1))
layers.append(rules([(3568, BAR_Y0 - t * BAR_K, 3579, BAR_Y0 - t * BAR_K) for t in BAR_TICKS], "#303030", 1))
layers.append(texts([(3593, BAR_Y0 - t * BAR_K, str(t)) for t in BAR_TICKS], "DejaVu Serif", 20, "#444444", "left"))
layers.append(texts([(34, 515, "RSS differences")], "Liberation Sans", 36, "#404040", angle=270))

chart = alt.layer(*layers).properties(width=3650, height=1263, padding=0, autosize="none", background="white").configure_view(stroke=None)
chart.save("out.html", embed_options={"renderer": "svg", "actions": False})
